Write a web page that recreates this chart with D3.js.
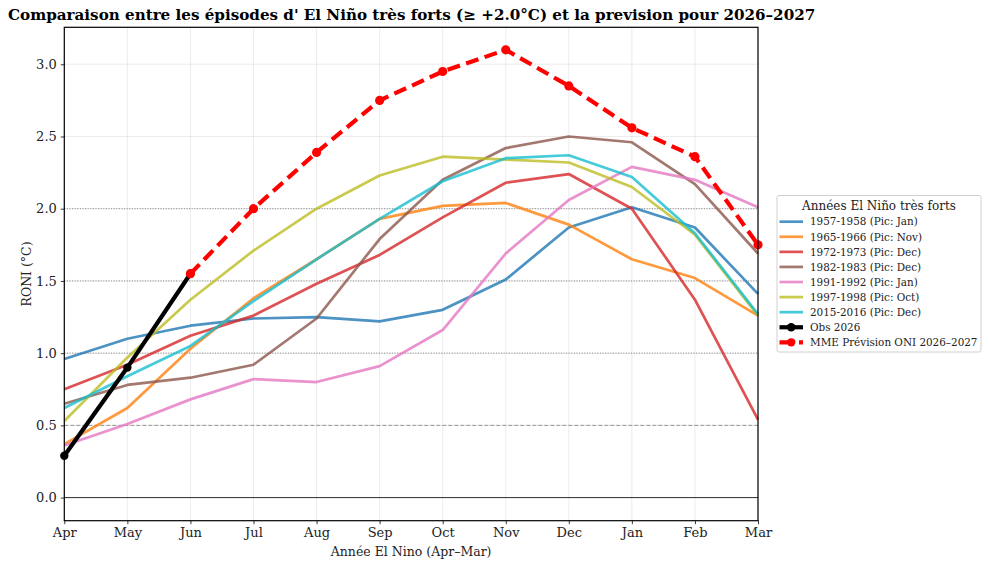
<!DOCTYPE html>
<html>
<head>
<meta charset="utf-8">
<script src="https://cdn.jsdelivr.net/npm/d3@7"></script>
<style>
  body { margin: 0; background: #fff; }
  svg { display: block; font-family: "DejaVu Serif", serif; }
</style>
</head>
<body>
<div id="chart"></div>
<script>
var months = ["Apr", "May", "Jun", "Jul", "Aug", "Sep", "Oct", "Nov", "Dec", "Jan", "Feb", "Mar"];
var yTicks = [0.0, 0.5, 1.0, 1.5, 2.0, 2.5, 3.0];

var seriesNames = [
    "1957-1958 (Pic: Jan)", "1965-1966 (Pic: Nov)", "1972-1973 (Pic: Dec)",
    "1982-1983 (Pic: Dec)", "1991-1992 (Pic: Jan)", "1997-1998 (Pic: Oct)",
    "2015-2016 (Pic: Dec)"
];
var v1957 = [0.96, 1.10, 1.19, 1.24, 1.25, 1.22, 1.30, 1.51, 1.87, 2.01, 1.87, 1.41];
var v1965 = [0.37, 0.62, 1.03, 1.38, 1.65, 1.93, 2.02, 2.04, 1.89, 1.65, 1.52, 1.26];
var v1972 = [0.75, 0.92, 1.12, 1.26, 1.48, 1.68, 1.94, 2.18, 2.24, 2.00, 1.37, 0.54];
var v1982 = [0.65, 0.78, 0.83, 0.92, 1.24, 1.79, 2.20, 2.42, 2.50, 2.46, 2.17, 1.69];
var v1991 = [0.36, 0.51, 0.68, 0.82, 0.80, 0.91, 1.16, 1.69, 2.06, 2.29, 2.20, 2.01];
var v1997 = [0.53, 0.97, 1.37, 1.71, 2.00, 2.23, 2.36, 2.34, 2.32, 2.15, 1.82, 1.26];
var v2015 = [0.62, 0.84, 1.05, 1.36, 1.65, 1.93, 2.19, 2.35, 2.37, 2.22, 1.83, 1.27];
var seriesValues = [v1957, v1965, v1972, v1982, v1991, v1997, v2015];
var seriesColors = ["#1f77b4", "#ff7f0e", "#d62728", "#8c564b", "#e377c2", "#bcbd22", "#17becf"];

var obsMonths = ["Apr", "May", "Jun"];
var obsValues = [0.29, 0.90, 1.55];

var mmeMonths = ["Jun", "Jul", "Aug", "Sep", "Oct", "Nov", "Dec", "Jan", "Feb", "Mar"];
var mmeValues = [1.55, 2.00, 2.39, 2.75, 2.95, 3.10, 2.85, 2.56, 2.36, 1.75];

var dottedLevels = [1.0, 1.5, 2.0];
var dashedLevels = [0.5];

var W = 989, H = 567;
var margin = {top: 27.3, right: 231, bottom: 46.3, left: 64.3};
var width = W - margin.left - margin.right,
    height = H - margin.top - margin.bottom;

var svg = d3.select("#chart").append("svg")
    .attr("width", W)
    .attr("height", H);

var g = svg.append("g")
    .attr("transform", "translate(" + margin.left + "," + margin.top + ")");

var x = d3.scalePoint().domain(months).range([0, width]);
var y = d3.scaleLinear().domain([-0.16, 3.256]).range([height, 0]);

// light grid
g.append("g").selectAll("line")
    .data(months)
    .enter().append("line")
        .attr("x1", function(m) { return x(m); })
        .attr("x2", function(m) { return x(m); })
        .attr("y1", 0).attr("y2", height)
        .attr("stroke", "#b0b0b0").attr("stroke-opacity", 0.3).attr("stroke-width", 0.8);
g.append("g").selectAll("line")
    .data(yTicks)
    .enter().append("line")
        .attr("x1", 0).attr("x2", width)
        .attr("y1", function(v) { return y(v); })
        .attr("y2", function(v) { return y(v); })
        .attr("stroke", "#b0b0b0").attr("stroke-opacity", 0.3).attr("stroke-width", 0.8);

// reference levels
g.append("g").selectAll("line")
    .data(dottedLevels)
    .enter().append("line")
        .attr("x1", 0).attr("x2", width)
        .attr("y1", function(v) { return y(v); })
        .attr("y2", function(v) { return y(v); })
        .attr("stroke", "#808080").attr("stroke-width", 1).attr("stroke-dasharray", "1,1.6");
g.append("g").selectAll("line")
    .data(dashedLevels)
    .enter().append("line")
        .attr("x1", 0).attr("x2", width)
        .attr("y1", function(v) { return y(v); })
        .attr("y2", function(v) { return y(v); })
        .attr("stroke", "#808080").attr("stroke-opacity", 0.8).attr("stroke-width", 1).attr("stroke-dasharray", "4,2");
g.append("line")
    .attr("x1", 0).attr("x2", width)
    .attr("y1", y(0)).attr("y2", y(0))
    .attr("stroke", "#000").attr("stroke-opacity", 0.8).attr("stroke-width", 1);

var line = d3.line()
    .x(function(d) { return x(d.m); })
    .y(function(d) { return y(d.v); });

function pairs(ms, vs) {
    return vs.map(function(v, i) { return {m: ms[i], v: v}; });
}

var plot = g.append("g");

seriesValues.forEach(function(vals, i) {
    plot.append("path")
        .datum(pairs(months, vals))
        .attr("d", line)
        .attr("fill", "none")
        .attr("stroke", seriesColors[i])
        .attr("stroke-opacity", 0.8)
        .attr("stroke-width", 2.7)
        .attr("stroke-linejoin", "round");
});

var obsData = pairs(obsMonths, obsValues);
plot.append("path")
    .datum(obsData)
    .attr("d", line)
    .attr("fill", "none")
    .attr("stroke", "#000")
    .attr("stroke-width", 4.2);
plot.selectAll(".obs").data(obsData).enter().append("circle")
    .attr("cx", function(d) { return x(d.m); })
    .attr("cy", function(d) { return y(d.v); })
    .attr("r", 4.2)
    .attr("fill", "#000");

var mmeData = pairs(mmeMonths, mmeValues);
plot.append("path")
    .datum(mmeData)
    .attr("d", line)
    .attr("fill", "none")
    .attr("stroke", "#ff0000")
    .attr("stroke-width", 4.2)
    .attr("stroke-dasharray", "13,6.5");
plot.selectAll(".mme").data(mmeData).enter().append("circle")
    .attr("cx", function(d) { return x(d.m); })
    .attr("cy", function(d) { return y(d.v); })
    .attr("r", 4.6)
    .attr("fill", "#ff0000");

// axes
var xAxis = g.append("g")
    .attr("transform", "translate(0," + height + ")")
    .call(d3.axisBottom(x).tickSize(3.5).tickPadding(4));
var yAxis = g.append("g")
    .call(d3.axisLeft(y).tickValues(yTicks).tickFormat(d3.format(".1f")).tickSize(3.5).tickPadding(4));
[xAxis, yAxis].forEach(function(a) {
    a.select(".domain").remove();
    a.selectAll("text").attr("font-family", "DejaVu Serif").attr("font-size", 13).attr("fill", "#222");
    a.selectAll("line").attr("stroke", "#222").attr("stroke-width", 0.9);
});

g.append("rect")
    .attr("x", 0).attr("y", 0)
    .attr("width", width).attr("height", height)
    .attr("fill", "none").attr("stroke", "#000").attr("stroke-width", 1.2);

// labels
svg.append("text")
    .attr("x", margin.left + width / 2)
    .attr("y", 556)
    .attr("text-anchor", "middle")
    .attr("font-size", 12.5)
    .attr("fill", "#222")
    .text("Année El Nino (Apr–Mar)");
svg.append("text")
    .attr("transform", "translate(31," + (margin.top + height / 2) + ") rotate(-90)")
    .attr("text-anchor", "middle")
    .attr("font-size", 12.5)
    .attr("fill", "#222")
    .text("RONI (°C)");
svg.append("text")
    .attr("x", 8)
    .attr("y", 20)
    .attr("font-size", 15.15)
    .attr("font-weight", "bold")
    .text("Comparaison entre les épisodes d' El Niño très forts (≥ +2.0°C) et la prevision pour 2026–2027");

// legend
var legendItems = seriesNames.map(function(n, i) {
    return {name: n, color: seriesColors[i], opacity: 0.8, width: 2.7, dash: null, marker: false};
});
legendItems.push({name: "Obs 2026", color: "#000", opacity: 1, width: 4.2, dash: null, marker: true});
legendItems.push({name: "MME Prévision ONI 2026–2027", color: "#ff0000", opacity: 1, width: 4.2, dash: "13,6.5", marker: true});

var legend = svg.append("g").attr("transform", "translate(777,195.5)");
legend.append("rect")
    .attr("width", 204).attr("height", 156.5)
    .attr("rx", 2)
    .attr("fill", "#fff").attr("fill-opacity", 0.8)
    .attr("stroke", "#d0d0d0").attr("stroke-width", 1);
legend.append("text")
    .attr("x", 102).attr("y", 14)
    .attr("text-anchor", "middle")
    .attr("font-size", 12)
    .attr("fill", "#222")
    .text("Années El Niño très forts");

var rows = legend.selectAll(".row")
    .data(legendItems)
    .enter().append("g")
        .attr("transform", function(d, i) { return "translate(0," + (26.2 + i * 15.08) + ")"; });
rows.append("line")
    .attr("x1", 2.5).attr("x2", 26)
    .attr("stroke", function(d) { return d.color; })
    .attr("stroke-opacity", function(d) { return d.opacity; })
    .attr("stroke-width", function(d) { return d.width; })
    .attr("stroke-dasharray", function(d) { return d.dash; });
rows.filter(function(d) { return d.marker; }).append("circle")
    .attr("cx", 14.2).attr("r", 4.2)
    .attr("fill", function(d) { return d.color; });
rows.append("text")
    .attr("x", 33).attr("dy", "0.36em")
    .attr("font-size", 10.4)
    .attr("fill", "#222")
    .text(function(d) { return d.name; });
</script>
</body>
</html>
